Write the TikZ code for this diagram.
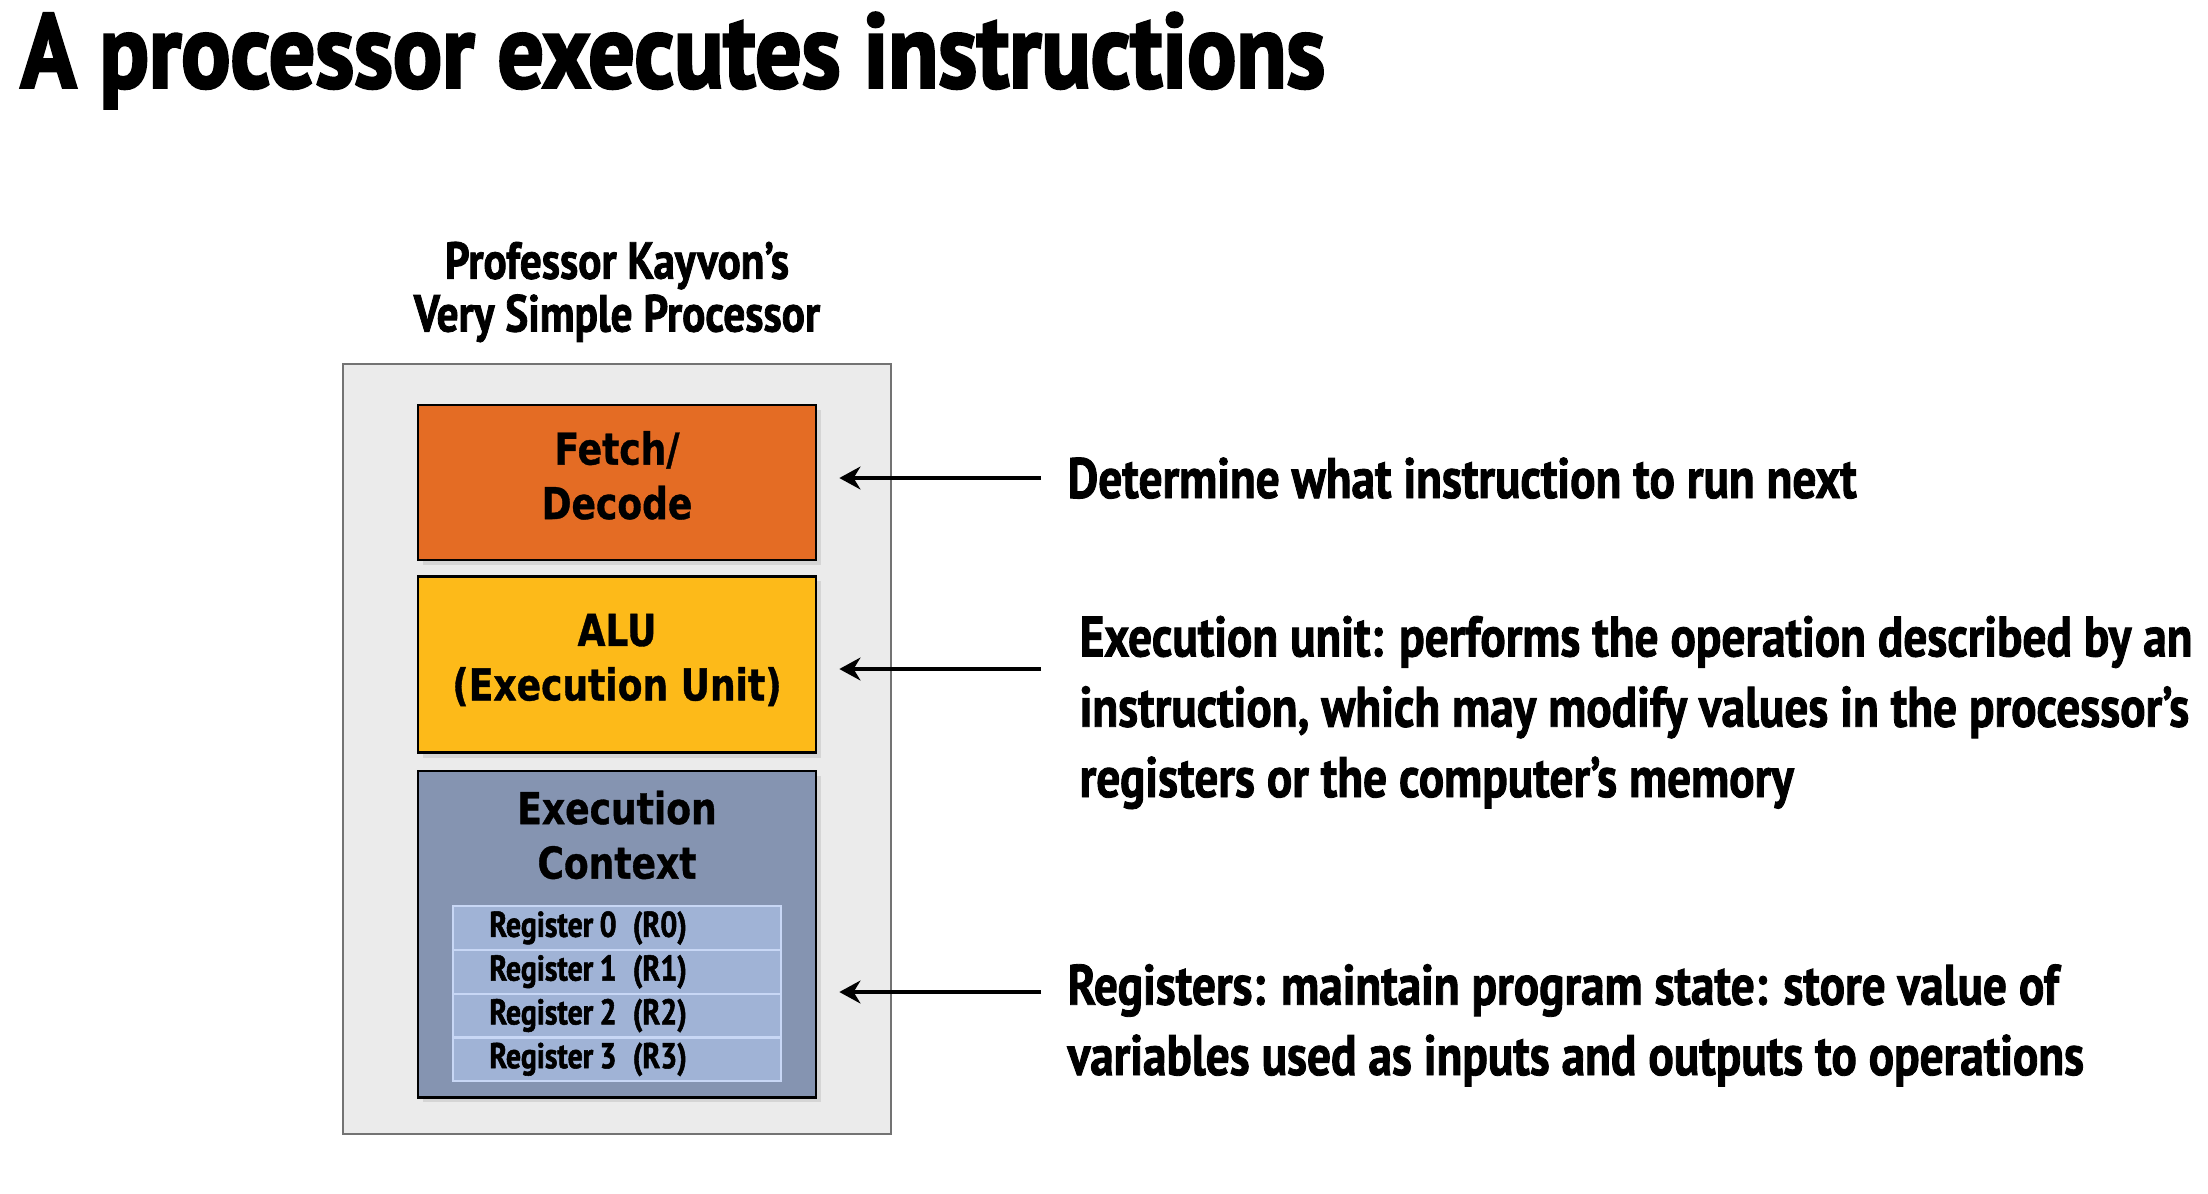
\documentclass[tikz,border=0pt]{standalone}
\usepackage{fontspec}
\setmainfont{PT Sans}
\newfontfamily\titlefont{PT Sans}[FakeStretch=0.87, FakeBold=2.5]
\newfontfamily\condfont{PT Sans}[FakeStretch=0.83, FakeBold=1.5]
\newfontfamily\boxfont{DejaVu Sans}[FakeStretch=0.82, FakeBold=0.8]
\usetikzlibrary{calc,positioning,arrows.meta,shadows}

\definecolor{fetchorange}{HTML}{E46C24}
\definecolor{aluyellow}{HTML}{FDBA19}
\definecolor{ctxblue}{HTML}{8594B1}
\definecolor{regblue}{HTML}{A0B3D6}
\definecolor{regedge}{HTML}{C8D7F5}
\definecolor{procgray}{HTML}{EBEBEB}

\begin{document}
\begin{tikzpicture}[x=0.01cm, y=-0.01cm,
    unit/.style={draw=black, line width=0.7pt, minimum width=3.98cm,
      inner sep=0pt, align=center,
      font=\boxfont\bfseries\fontsize{12.5}{15.5}\selectfont,
      execute at end node={\rule[-4.2pt]{0pt}{0pt}},
      drop shadow={shadow xshift=0.5mm, shadow yshift=-0.5mm, opacity=0.2}},
    reg/.style={draw=regedge, fill=regblue, line width=0.6pt,
      text width=2.55cm, inner xsep=0.36cm, inner ysep=0pt,
      minimum height=0.438cm, align=left,
      font=\condfont\bfseries\fontsize{10.2}{12}\selectfont},
    note/.style={anchor=base west, align=left, inner sep=0pt,
      font=\condfont\bfseries\fontsize{16.2}{20}\selectfont},
    pointer/.style={-{Stealth[length=6pt,width=6.5pt]}, line width=1.2pt}]
  \useasboundingbox (0,0) rectangle (2208,1193);

  \node[anchor=base west, inner sep=0pt,
    font=\titlefont\bfseries\fontsize{30}{30}\selectfont] (title) at (20,87.5)
    {A processor executes instructions};

  % the processor
  \node[draw=black!55, line width=0.6pt, fill=procgray, minimum width=5.48cm,
    minimum height=7.70cm] (proc) at (617,749) {};
  \node[anchor=base, align=center, inner sep=0pt,
    font=\condfont\bfseries\fontsize{14.8}{15}\selectfont] (proctitle) at (617,331.5)
    {Professor Kayvon’s\\Very Simple Processor};

  \node[unit, fill=fetchorange, minimum height=1.55cm] (fetch) at (617,482.5)
    {Fetch/\\Decode};
  \node[unit, fill=aluyellow, minimum height=1.76cm] (alu) at (617,664.5)
    {ALU\\(Execution Unit)};
  \node[unit, fill=ctxblue, minimum height=3.26cm, anchor=north] (ctx) at (617,770) {};
  \node[anchor=north, align=center, inner sep=0pt,
    font=\boxfont\bfseries\fontsize{12.5}{15.5}\selectfont] (ctxlabel)
    at ($(ctx.north)+(0,20)$) {Execution\\Context};

  % registers
  \foreach \i in {0,...,3}
    \node[reg, anchor=north] (r\i) at (617,905+43.8*\i)
      {Register\hspace{0.18em}\i\hspace{0.45em}(R\i)};

  % notes on the right
  \node[note] (n1) at (1067,498) {Determine what instruction to run next};
  \node[note] (n2) at (1079,797) {Execution unit: performs the operation described by an\\
    instruction, which may modify values in the processor’s\\
    registers or the computer’s memory};
  \node[note] (n3) at (1067,1075) {Registers: maintain program state: store value of\\
    variables used as inputs and outputs to operations};

  \coordinate (t1) at (1041,478);
  \coordinate (t2) at (1041,669);
  \coordinate (t3) at (1041,992);
  \draw[pointer] (t1) -- ($(t1 -| fetch.east)+(22,0)$);
  \draw[pointer] (t2) -- ($(t2 -| alu.east)+(22,0)$);
  \draw[pointer] (t3) -- ($(t3 -| ctx.east)+(22,0)$);
\end{tikzpicture}
\end{document}
